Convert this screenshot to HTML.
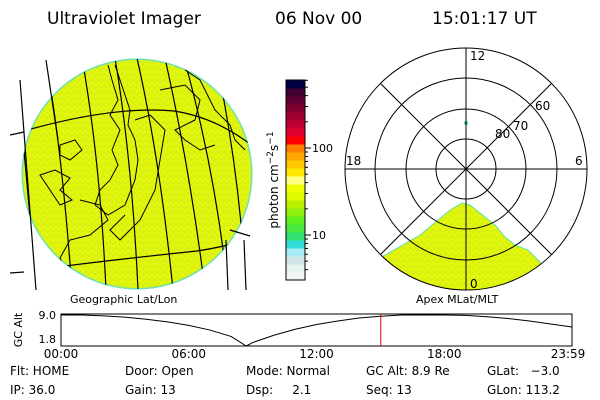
<!DOCTYPE html>
<html><head><meta charset="utf-8"><style>
html,body{margin:0;padding:0;background:#fff;}
svg{display:block;font-family:"DejaVu Sans","Liberation Sans",sans-serif;}
</style></head><body>
<svg id="root" width="600" height="400" viewBox="0 0 600 400">
<defs>
<pattern id="speck" width="6" height="6" patternUnits="userSpaceOnUse">
<rect width="6" height="6" fill="#e2f50a"/>
<rect x="1" y="1" width="2" height="2" fill="#c8ec1c"/>
<rect x="4" y="3" width="2" height="2" fill="#d0ef18"/>
</pattern>
<clipPath id="globeclip"><circle cx="137" cy="174" r="115"/></clipPath>
<clipPath id="polarclip"><circle cx="466" cy="169" r="121"/></clipPath>
</defs>
<g font-size="17" fill="#000">
<text x="47" y="24">Ultraviolet Imager</text>
<text x="275" y="24">06 Nov 00</text>
<text x="432" y="24">15:01:17 UT</text>
</g>

<g>
<circle cx="137" cy="174" r="115.5" fill="#6fe0b0"/>
<circle cx="137" cy="174" r="114" fill="url(#speck)"/>
<g clip-path="url(#globeclip)" fill="none" stroke="#000" stroke-width="1">
<path d="M108,65 L112,80 L118,100 L110,115 L120,130 L112,150 L118,165 L110,180 L100,190 L95,205 L108,215 L125,205 L135,180 L138,160 L135,140 L128,125 L130,110 L125,95 L120,80 L115,65"/>
<path d="M60,145 L75,140 L82,150 L70,160 L60,155 Z"/>
<path d="M40,175 L55,170 L70,178 L60,190 L72,200 L60,205 Z"/>
<path d="M135,120 L150,115 L165,130 L160,160 L155,190 L140,220 L120,240 L110,230 L125,215"/>
<path d="M160,90 L185,85 L200,100 L195,120 L175,130 L185,140 L200,150 L215,145"/>
<path d="M185,70 L200,80 L215,110 L230,125 L235,140 L245,150"/>
<path d="M80,200 L100,205 L108,220 L90,235 L70,240 L60,258 L65,270"/>
</g>
<g clip-path="url(#globeclip)" fill="none" stroke="#000" stroke-width="1.2">
<path d="M20,110 Q28,190 36,290"/>
<path d="M46,60 Q62,150 72,290"/>
<path d="M82,58 Q100,160 106,290"/>
<path d="M115,58 Q132,160 138,290"/>
<path d="M137,58 Q160,160 173,290"/>
<path d="M165,58 Q190,170 205,290"/>
<path d="M185,62 Q215,170 228,290"/>
<path d="M220,80 Q240,180 246,290"/>
<path d="M10,135 Q110,105 174,111 Q220,118 260,152"/>
<path d="M10,273 Q110,260 197,251 Q230,246 260,236"/>
</g>
<path d="M20,80 Q28,190 36,290 M46,60 Q52,100 58,140 M10,135 L24,132 M10,273 L24,272 M230,230 L250,236 M244,240 L246,290 M226,240 L228,290" fill="none" stroke="#000" stroke-width="1.2"/>
</g>

<g id="cbar"></g>
<text transform="translate(278,180) rotate(-90)" text-anchor="middle" font-size="12">photon cm<tspan dy="-5" font-size="9">−2</tspan><tspan dy="5">s</tspan><tspan dy="-5" font-size="9">−1</tspan></text>

<g>
<path clip-path="url(#polarclip)" d="M380,258 L420,235 L450,210 L462,203 L470,205 L495,225 L505,237 L515,245 L528,250 L540,262 L545,275 L530,300 L380,300 Z" fill="url(#speck)" stroke="#5fe0b0" stroke-width="1"/>
<circle cx="466" cy="123" r="2" fill="#3ad0a0"/>
<g fill="none" stroke="#000" stroke-width="1">
<circle cx="466" cy="169" r="30"/>
<circle cx="466" cy="169" r="60"/>
<circle cx="466" cy="169" r="91"/>
<circle cx="466" cy="169" r="121"/>
<line x1="466" y1="48" x2="466" y2="290"/>
<line x1="345" y1="169" x2="587" y2="169"/>
<line x1="380.4" y1="83.4" x2="551.6" y2="254.6"/>
<line x1="551.6" y1="83.4" x2="380.4" y2="254.6"/>
</g>
<g font-size="12">
<text x="470" y="60">12</text>
<text x="346" y="165">18</text>
<text x="575" y="165">6</text>
<text x="470" y="288">0</text>
<text x="495" y="138">80</text>
<text x="513" y="132" dy="-2">70</text>
<text x="535" y="110">60</text>
</g>
</g>

<g>
<text x="70" y="303" font-size="11">Geographic Lat/Lon</text>
<text x="416" y="303" font-size="11">Apex MLat/MLT</text>
<text transform="translate(22,330) rotate(-90)" text-anchor="middle" font-size="11">GC Alt</text>
<text x="56" y="319" text-anchor="end" font-size="11">9.0</text>
<text x="56" y="343" text-anchor="end" font-size="11">1.8</text>
<rect x="61" y="314" width="511" height="32" fill="none" stroke="#000" stroke-width="1"/>
<g id="alt"></g>
<g font-size="12" text-anchor="middle" id="xticks"></g>
</g>

<g font-size="12">
<text x="10" y="375">Flt: HOME</text><text x="10" y="394">IP: 36.0</text>
<text x="125" y="375">Door: Open</text><text x="125" y="394">Gain: 13</text>
<text x="246" y="375">Mode: Normal</text><text x="246" y="394">Dsp:&#160;&#160;&#160;&#160; 2.1</text>
<text x="366" y="375">GC Alt: 8.9 Re</text><text x="366" y="394">Seq: 13</text>
<text x="487" y="375">GLat:&#160;&#160; −3.0</text><text x="487" y="394">GLon: 113.2</text>
</g>
</svg>
<script>
const NS="http://www.w3.org/2000/svg";
// colorbar
const cbColors=["#f4f8f4","#e6f2ec","#d0e4e4","#a8ecf4","#30e0d8","#30e070","#48e840","#60f020","#90f010","#b8f000","#e0f800","#f0ff00","#ffff80","#ffe800","#ffc800","#ffa800","#ff8000","#ff0000","#e00030","#c00030","#a00030","#800030","#600030","#400030","#000040"];
const cbTicks=["10","100"];
const cbTickVals=[1,2];
const cb=document.getElementById('cbar');
const cbX=286,cbW=19,cbTop=80,cbBot=280;
const bh=(cbBot-cbTop)/cbColors.length;
cbColors.forEach((c,i)=>{const r=document.createElementNS(NS,'rect');
r.setAttribute('x',cbX);r.setAttribute('y',cbBot-(i+1)*bh);r.setAttribute('width',cbW);r.setAttribute('height',bh+0.5);r.setAttribute('fill',c);


cb.appendChild(r);});
const fr=document.createElementNS(NS,'rect');fr.setAttribute('x',cbX);fr.setAttribute('y',cbTop);fr.setAttribute('width',cbW);fr.setAttribute('height',cbBot-cbTop);fr.setAttribute('fill','none');fr.setAttribute('stroke','#000');cb.appendChild(fr);
// log axis: 10 at y 235, 100 at y 148
function cbY(logv){return 235-(logv-1)*87;}
cbTickVals.forEach((v,i)=>{const t=document.createElementNS(NS,'text');t.setAttribute('x',312);t.setAttribute('y',cbY(v)+4);t.setAttribute('font-size','11');t.textContent=cbTicks[i];


cb.appendChild(t);});
for(let d=0;d<3;d++){for(let m=2;m<=9;m++){const lv=d+Math.log10(m);const y=cbY(lv);if(y<cbTop||y>cbBot)continue;const l=document.createElementNS(NS,'line');l.setAttribute('x1',cbX+cbW);l.setAttribute('x2',cbX+cbW+3);l.setAttribute('y1',y);l.setAttribute('y2',y);l.setAttribute('stroke','#000');cb.appendChild(l);}
const y=cbY(d);if(y>=cbTop&&y<=cbBot){const l=document.createElementNS(NS,'line');l.setAttribute('x1',cbX+cbW);l.setAttribute('x2',cbX+cbW+6);l.setAttribute('y1',y);l.setAttribute('y2',y);l.setAttribute('stroke','#000');cb.appendChild(l);}}
// altitude
const altHours=[0,1,2,3,4,5,6,7,8,8.7,9,10,11,12,13,14,15,16,17,18,19,20,21,22,23,24];
const altValues=[9.0,9.0,8.8,8.5,8.0,7.4,6.6,5.5,4.0,1.8,2.6,4.3,5.7,6.8,7.6,8.3,8.7,9.0,9.0,9.0,8.9,8.6,8.2,7.6,6.9,6.2];
const xTicks=["00:00","06:00","12:00","18:00","23:59"];
const xTickHours=[0,6,12,18,24];
const nowHour=15.02;
const xs=h=>61+h/24*511;
const ys=v=>346-(v-1.8)/(9.0-1.8)*31;
const alt=document.getElementById('alt');
const p=document.createElementNS(NS,'polyline');
p.setAttribute('points',altHours.map((h,i)=>xs(h)+','+ys(altValues[i])).join(' '));
p.setAttribute('fill','none');p.setAttribute('stroke','#000');


alt.appendChild(p);
const rl=document.createElementNS(NS,'line');rl.setAttribute('x1',xs(nowHour));rl.setAttribute('x2',xs(nowHour));rl.setAttribute('y1',314);rl.setAttribute('y2',346);rl.setAttribute('stroke','#e00000');


alt.appendChild(rl);
const xt=document.getElementById('xticks');
xTickHours.forEach((h,i)=>{const t=document.createElementNS(NS,'text');t.setAttribute('x',xs(h)-(i==4?4:0));t.setAttribute('y',358);t.textContent=xTicks[i];


xt.appendChild(t);});
</script>
</body></html>
